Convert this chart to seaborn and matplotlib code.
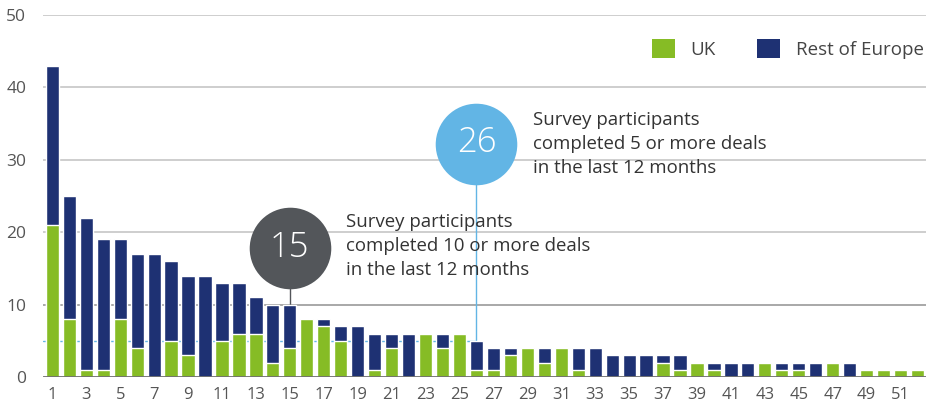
import numpy as np
import pandas as pd
import matplotlib
matplotlib.use("Agg")
import matplotlib.pyplot as plt
import seaborn as sns
from matplotlib.patches import Patch

participants = list(range(1, 53))
totals = [43, 25, 22, 19, 19, 17, 17, 16, 14, 14, 13, 13, 11, 10, 10,
          8, 8, 7, 7, 6, 6, 6, 6, 6, 6, 5, 4, 4, 4, 4, 4, 4, 4,
          3, 3, 3, 3, 3, 2, 2, 2, 2, 2, 2, 2, 2, 2, 2, 1, 1, 1, 1]
uk = [21, 8, 1, 1, 8, 4, 0, 5, 3, 0, 5, 6, 6, 2, 4,
      8, 7, 5, 0, 1, 4, 0, 6, 4, 6, 1, 1, 3, 4, 2, 4, 1, 0,
      0, 0, 0, 2, 1, 2, 1, 0, 0, 2, 1, 1, 0, 2, 0, 1, 1, 1, 1]
series_names = ["UK", "Rest of Europe"]
y_ticks = [0, 10, 20, 30, 40, 50]
annot_15 = "15"
annot_26 = "26"
text_15 = "Survey participants\ncompleted 10 or more deals\nin the last 12 months"
text_26 = "Survey participants\ncompleted 5 or more deals\nin the last 12 months"

GREEN = "#86bc25"
NAVY = "#1e3173"
BLUE = "#62b5e5"
DARK = "#53565a"
TXT = "#333333"

sns.set_theme(style="white")
plt.rcParams["font.family"] = ["Open Sans", "DejaVu Sans"]

df = pd.DataFrame({"participant": [str(p) for p in participants],
                   "total": totals, "uk": uk})

fig = plt.figure(figsize=(9.26, 4.05), dpi=100)
ax = fig.add_axes([43 / 926, 1 - 377 / 405, (926 - 43) / 926, (377 - 15) / 405])

sns.barplot(data=df, x="participant", y="total", color=NAVY, width=0.78,
            saturation=1, ax=ax, zorder=3)
sns.barplot(data=df, x="participant", y="uk", color=GREEN, width=0.78,
            saturation=1, ax=ax, zorder=4)

ax.set_xlim(-0.55, 51.5)
ax.set_ylim(0, 50)
ax.set_yticks(y_ticks)
ax.set_yticklabels([str(v) for v in y_ticks], fontsize=12.5, color="#555555")
xt = list(range(0, 52, 2))
ax.set_xticks(xt)
ax.set_xticklabels([str(participants[i]) for i in xt], fontsize=12, color="#555555")
ax.tick_params(axis="both", length=0)
ax.tick_params(axis="x", pad=7)
ax.tick_params(axis="y", pad=12)
ax.set_xlabel("")
ax.set_ylabel("")
for s in ax.spines.values():
    s.set_visible(False)

for v in y_ticks[1:]:
    ax.axhline(v, color="#9a9a9a" if v == 10 else "#c6c6c6", lw=1.2, zorder=1)
ax.axhline(0, color="#6e6e6e", lw=2, zorder=5)

# threshold line at 5 and connectors
i26 = participants.index(26)
i15 = participants.index(15)
ax.plot([-0.55, i26], [5, 5], color=BLUE, lw=1, zorder=2)
ax.plot([i26, i26], [totals[i26], 32.2], color=BLUE, lw=1, zorder=2, clip_on=False)
ax.plot([i15, i15], [totals[i15], 17.8], color=DARK, lw=1, zorder=2)

ax.scatter([i15], [17.8], s=3450, color=DARK, zorder=6, clip_on=False, linewidths=0)
ax.text(i15, 17.9, annot_15, color="white", fontsize=25, ha="center", va="center",
        zorder=7, fontweight="light")
ax.scatter([i26], [32.2], s=3450, color=BLUE, zorder=6, clip_on=False, linewidths=0)
ax.text(i26, 32.3, annot_26, color="white", fontsize=25, ha="center", va="center",
        zorder=7, fontweight="light")

ax.text(17.3, 18.1, text_15, color=TXT, fontsize=13.4, ha="left", va="center",
        linespacing=1.45, zorder=8)
ax.text(28.35, 32.2, text_26, color=TXT, fontsize=13.4, ha="left", va="center",
        linespacing=1.45, zorder=8)

handles = [Patch(facecolor=GREEN, edgecolor="none"), Patch(facecolor=NAVY, edgecolor="none")]
leg = ax.legend(handles, series_names, loc="upper right", bbox_to_anchor=(0.998, 0.935),
                ncol=2, frameon=False, fontsize=13.5, handlelength=1.23, handleheight=1.23,
                handletextpad=0.85, columnspacing=2.2, borderaxespad=0, borderpad=0)
for t in leg.get_texts():
    t.set_color("#444444")

fig.savefig("out.png", dpi=100)
